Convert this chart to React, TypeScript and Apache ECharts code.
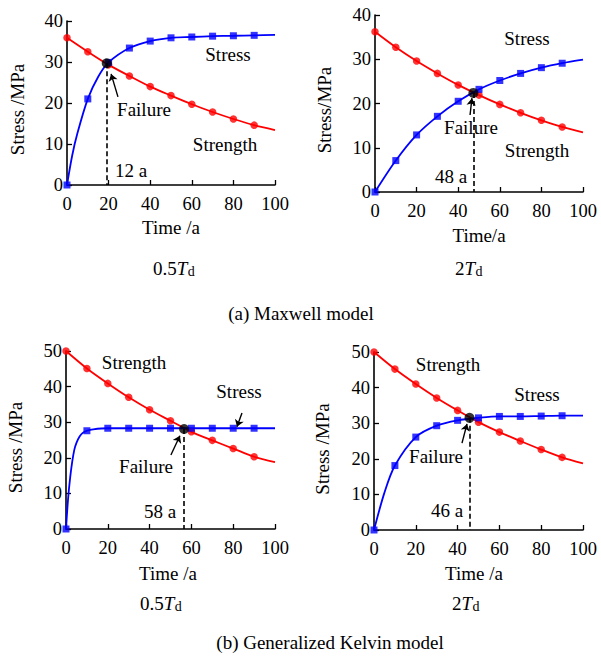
import React, { useEffect, useRef } from "react";
import * as echarts from "echarts";

// Sampled times (a)
const STRENGTH_T = [0, 10, 20, 30, 40, 50, 60, 70, 80, 90, 100];
const MARKER_T = [0, 10, 20, 30, 40, 50, 60, 70, 80, 90];

// (a) Maxwell model, 0.5Td
const MX_HALF_STRENGTH = [35.9, 32.5, 29.3, 26.6, 24.0, 21.8, 19.7, 17.8, 16.1, 14.6, 13.4];
const MX_HALF_STRESS_T = [0, 2.5, 5, 10, 15, 20, 30, 40, 50, 60, 70, 80, 90, 100];
const MX_HALF_STRESS = [0, 7.2, 12.6, 21.0, 26.4, 29.9, 33.4, 35.1, 35.9, 36.1, 36.3, 36.4, 36.5, 36.6];
const MX_HALF_FAILURE = [19.1, 29.7];

// (a) Maxwell model, 2Td
const MX_TWO_STRENGTH = [36.2, 32.7, 29.6, 26.8, 24.2, 21.9, 19.8, 17.9, 16.2, 14.7, 13.5];
const MX_TWO_STRESS_T = [0, 10, 20, 30, 40, 50, 60, 70, 80, 90, 100];
const MX_TWO_STRESS = [0, 7.1, 12.9, 17.1, 20.5, 23.2, 25.2, 26.8, 28.1, 29.1, 29.9];
const MX_TWO_FAILURE = [47.3, 22.4];

// (b) Generalized Kelvin model, 0.5Td
const GK_HALF_STRENGTH = [50, 45.1, 40.9, 37.0, 33.5, 30.4, 27.3, 24.9, 22.6, 20.3, 18.8];
const GK_HALF_STRESS_T = [0, 1, 2, 3, 4, 5, 6.5, 8, 10, 13, 20, 30, 40, 50, 60, 70, 80, 90, 100];
const GK_HALF_STRESS = [0, 8.5, 14.5, 19, 22.3, 24.2, 26, 27, 27.6, 28, 28.3, 28.3, 28.3, 28.3, 28.3, 28.3, 28.3, 28.3, 28.3];
const GK_HALF_FAILURE = [56.5, 28.1];

// (b) Generalized Kelvin model, 2Td
const GK_TWO_STRENGTH = [50, 45.2, 41.0, 37.1, 33.6, 30.3, 27.5, 25.0, 22.6, 20.4, 18.7];
const GK_TWO_STRESS_T = [0, 5, 10, 20, 30, 40, 50, 60, 70, 80, 90, 100];
const GK_TWO_STRESS = [0, 10.5, 18.1, 26.1, 29.3, 30.8, 31.5, 31.9, 31.9, 32.0, 32.1, 32.1];
const GK_TWO_FAILURE = [45.7, 31.5];

const FAILURE_LABELS = ["12 a", "48 a", "58 a", "46 a"];
const Y_MAX = [40, 40, 50, 50];
const Y_NAMES = ["Stress /MPa", "Stress/MPa", "Stress /MPa", "Stress /MPa"];
const X_NAMES = ["Time /a", "Time/a", "Time /a", "Time /a"];
const FACTORS = ["0.5", "2", "0.5", "2"];
const MODEL_CAPTIONS = ["(a) Maxwell model", "(b) Generalized Kelvin model"];

const FONT = '"Liberation Serif", "Times New Roman", serif';
const RED = "#ff0000";
const BLUE = "#0000ff";

type Arrow = [number, number, number, number];

interface PanelDef {
  strength: number[];
  stressT: number[];
  stress: number[];
  failure: number[];
  grid: { left: number; top: number; width: number; height: number };
  arrows: Arrow[];
  yName: [number, number];
  xName: [number, number];
  caption: [number, number];
  labels: { text: string; x: number; y: number }[];
}

const PANELS: PanelDef[] = [
  {
    strength: MX_HALF_STRENGTH,
    stressT: MX_HALF_STRESS_T,
    stress: MX_HALF_STRESS,
    failure: MX_HALF_FAILURE,
    grid: { left: 67, top: 21, width: 208, height: 164 },
    arrows: [[24.5, 21.5, 21.2, 27.1]],
    yName: [17.5, 109.5],
    xName: [171, 227],
    caption: [153, 268],
    labels: [
      { text: "Stress", x: 228, y: 54 },
      { text: "Failure", x: 144, y: 109 },
      { text: "Strength", x: 225, y: 144 },
      { text: FAILURE_LABELS[0], x: 131, y: 170 },
    ],
  },
  {
    strength: MX_TWO_STRENGTH,
    stressT: MX_TWO_STRESS_T,
    stress: MX_TWO_STRESS,
    failure: MX_TWO_FAILURE,
    grid: { left: 375, top: 15, width: 208, height: 177 },
    arrows: [[45.7, 17.4, 46.6, 21.2]],
    yName: [324.5, 110],
    xName: [479, 235],
    caption: [455, 268],
    labels: [
      { text: "Stress", x: 527, y: 38 },
      { text: "Failure", x: 471, y: 127 },
      { text: "Strength", x: 537, y: 150 },
      { text: FAILURE_LABELS[1], x: 451, y: 176 },
    ],
  },
  {
    strength: GK_HALF_STRENGTH,
    stressT: GK_HALF_STRESS_T,
    stress: GK_HALF_STRESS,
    failure: GK_HALF_FAILURE,
    grid: { left: 66, top: 351, width: 209, height: 178 },
    arrows: [
      [84.2, 32.6, 81.8, 28.7],
      [50.2, 20.8, 54.5, 26.2],
    ],
    yName: [15.5, 447.5],
    xName: [168, 573],
    caption: [140, 603],
    labels: [
      { text: "Strength", x: 134, y: 362 },
      { text: "Stress", x: 239, y: 391 },
      { text: "Failure", x: 146, y: 466 },
      { text: FAILURE_LABELS[2], x: 160, y: 511 },
    ],
  },
  {
    strength: GK_TWO_STRENGTH,
    stressT: GK_TWO_STRESS_T,
    stress: GK_TWO_STRESS,
    failure: GK_TWO_FAILURE,
    grid: { left: 374, top: 352, width: 209, height: 178 },
    arrows: [[42.1, 24.4, 44.5, 29.8]],
    yName: [322.5, 449],
    xName: [474, 573],
    caption: [452, 603],
    labels: [
      { text: "Strength", x: 448, y: 364 },
      { text: "Stress", x: 537, y: 394 },
      { text: "Failure", x: 436, y: 456 },
      { text: FAILURE_LABELS[3], x: 447, y: 510 },
    ],
  },
];

const pairs = (ts: number[], vs: number[]) => ts.map((t, i) => [t, vs[i]]);
const markersOf = (ts: number[], vs: number[]) =>
  pairs(ts, vs).filter((p) => MARKER_T.indexOf(p[0]) >= 0);

function text(str: string, x: number, y: number, size = 19, extra: any = {}) {
  return {
    type: "text",
    x,
    y,
    silent: true,
    style: {
      text: str,
      fill: "#000",
      font: `${extra.italic ? "italic " : ""}${size}px ${FONT}`,
      align: extra.align || "center",
      verticalAlign: extra.verticalAlign || "middle",
    },
    rotation: extra.rotation || 0,
  };
}

function buildOption() {
  const grids: any[] = [];
  const xAxes: any[] = [];
  const yAxes: any[] = [];
  const series: any[] = [];
  const graphics: any[] = [];

  PANELS.forEach((p, i) => {
    grids.push({ ...p.grid, containLabel: false });
    const axisCommon = {
      gridIndex: i,
      axisLine: { show: true, lineStyle: { color: "#000", width: 1.6 } },
      axisTick: { show: true, inside: true, length: 5, lineStyle: { color: "#000", width: 1.3 } },
      splitLine: { show: false },
    };
    xAxes.push({
      ...axisCommon,
      type: "value",
      min: 0,
      max: 100,
      interval: 20,
      axisLabel: { color: "#000", fontFamily: FONT, fontSize: 18.5, margin: 9 },
    });
    yAxes.push({
      ...axisCommon,
      type: "value",
      min: 0,
      max: Y_MAX[i],
      interval: 10,
      axisLabel: { color: "#000", fontFamily: FONT, fontSize: 18.5, margin: 4 },
    });

    const base = { xAxisIndex: i, yAxisIndex: i, silent: true };
    series.push({
      ...base,
      type: "line",
      data: pairs(STRENGTH_T, p.strength),
      smooth: 0.3,
      showSymbol: false,
      lineStyle: { color: RED, width: 1.8 },
      z: 2,
    });
    series.push({
      ...base,
      type: "line",
      data: pairs(p.stressT, p.stress),
      smooth: 0.3,
      showSymbol: false,
      lineStyle: { color: BLUE, width: 1.8 },
      z: 2,
    });
    series.push({
      ...base,
      type: "scatter",
      data: markersOf(STRENGTH_T, p.strength),
      symbol: "circle",
      symbolSize: 7.5,
      itemStyle: { color: RED },
      z: 3,
    });
    series.push({
      ...base,
      type: "scatter",
      data: markersOf(p.stressT, p.stress),
      symbol: "rect",
      symbolSize: 7,
      itemStyle: { color: BLUE },
      z: 3,
    });
    const [ft, fv] = p.failure;
    series.push({
      ...base,
      type: "scatter",
      data: [[ft, fv]],
      symbol: "circle",
      symbolSize: 10,
      itemStyle: { color: "#000" },
      z: 5,
      markLine: {
        silent: true,
        symbol: ["none", "none"],
        label: { show: false },
        emphasis: { disabled: true },
        data: [
          [
            { coord: [ft, fv], lineStyle: { color: "#000", width: 1.6, type: [5, 3] } },
            { coord: [ft, 0] },
          ],
          ...p.arrows.map((a) => [
            { coord: [a[0], a[1]], symbol: "none", lineStyle: { color: "#000", width: 1.4, type: "solid" } },
            { coord: [a[2], a[3]], symbol: "arrow", symbolSize: 7 },
          ]),
        ],
      },
    });

    // axis names
    graphics.push(text(Y_NAMES[i], p.yName[0], p.yName[1], 19, { rotation: Math.PI / 2 }));
    graphics.push(text(X_NAMES[i], p.xName[0], p.xName[1], 19));
    // in-plot annotations
    p.labels.forEach((l) => graphics.push(text(l.text, l.x, l.y, 19)));

    // panel caption: factor, italic T, subscript d
    const [cx, cy] = p.caption;
    const factor = FACTORS[i];
    const fw = factor.length === 1 ? 9.5 : 23.75;
    graphics.push(text(factor, cx, cy, 19, { align: "left" }));
    graphics.push(text("T", cx + fw, cy, 19, { align: "left", italic: true }));
    graphics.push(text("d", cx + fw + 11, cy + 3, 14, { align: "left" }));
  });

  graphics.push(text(MODEL_CAPTIONS[0], 301, 313, 19));
  graphics.push(text(MODEL_CAPTIONS[1], 330, 642, 19));

  return {
    animation: false,
    backgroundColor: "#fff",
    grid: grids,
    xAxis: xAxes,
    yAxis: yAxes,
    series,
    graphic: graphics,
  };
}

export default function App() {
  const ref = useRef<HTMLDivElement>(null);
  useEffect(() => {
    if (!ref.current) return;
    const chart = echarts.init(ref.current, undefined, { renderer: "svg" });
    chart.setOption(buildOption() as any);
    return () => chart.dispose();
  }, []);
  return (
    <div
      ref={ref}
      style={{ position: "absolute", left: 0, top: 0, width: 601, height: 659, background: "#fff" }}
    />
  );
}
